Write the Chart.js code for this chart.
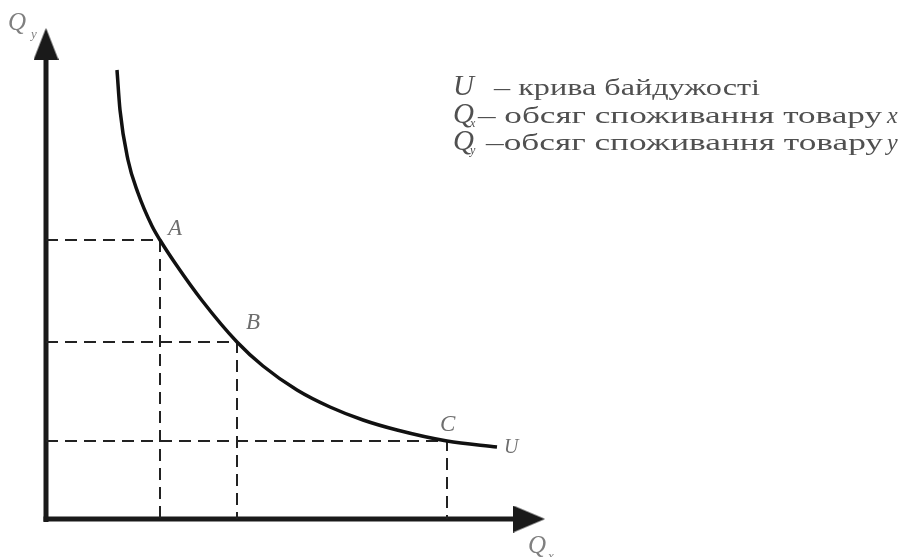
<!DOCTYPE html>
<html>
<head>
<meta charset="utf-8">
<script src="https://cdn.jsdelivr.net/npm/chart.js@4.4.1/dist/chart.umd.min.js"></script>
<style>
  body { margin: 0; background: #fff; }
  canvas { display: block; }
</style>
</head>
<body>
<canvas id="curveChart" width="902" height="557"></canvas>
<script>
// indifference curve U, traced point by point
const curveX = [1.42, 1.48, 1.64, 1.84, 2.12, 2.28, 2.58, 3.12, 3.82, 4.34, 5.02, 5.68, 6.34, 7.02, 8.02, 9.02];
const curveY = [8.98, 8.18, 7.18, 6.52, 5.86, 5.58, 5.12, 4.37, 3.54, 3.06, 2.58, 2.24, 1.98, 1.78, 1.56, 1.44];

// marked bundles on the curve
const pointNames = ['A', 'B', 'C'];
const pointX = [2.28, 3.82, 8.02];
const pointY = [5.58, 3.54, 1.56];

// axis extents (arrow centres)
const axisXEnd = 9.66;
const axisYEnd = 9.5;

const legendLines = [
  { sym: 'U', sub: '', text: '– крива байдужості', tail: '' },
  { sym: 'Q', sub: 'x', text: '– обсяг споживання товару', tail: 'x' },
  { sym: 'Q', sub: 'y', text: '–обсяг споживання товару', tail: 'y' }
];

function arrowHead(w, h) {
  const c = document.createElement('canvas');
  c.width = w;
  c.height = h;
  const g = c.getContext('2d');
  g.fillStyle = '#1a1a1a';
  g.beginPath();
  g.moveTo(w / 2, 0);
  g.lineTo(w, h);
  g.lineTo(0, h);
  g.closePath();
  g.fill();
  return c;
}

const guideSets = pointX.map((x, i) => ({
  data: [{ x: 0, y: pointY[i] }, { x: x, y: pointY[i] }, { x: x, y: 0 }],
  showLine: true,
  borderColor: '#222',
  borderWidth: 2,
  borderDash: [12, 7],
  pointRadius: 0,
  tension: 0
}));

const curveSet = {
  data: curveX.map((x, i) => ({ x: x, y: curveY[i] })),
  showLine: true,
  borderColor: '#111',
  borderWidth: 3.5,
  pointRadius: 0,
  cubicInterpolationMode: 'monotone'
};

const axisSets = [
  {
    data: [{ x: 0, y: -0.06 }, { x: 0, y: axisYEnd }],
    showLine: true, borderColor: '#1a1a1a', borderWidth: 5, pointRadius: 0
  },
  {
    data: [{ x: -0.05, y: 0 }, { x: axisXEnd, y: 0 }],
    showLine: true, borderColor: '#1a1a1a', borderWidth: 5, pointRadius: 0
  },
  {
    data: [{ x: 0, y: axisYEnd }],
    pointStyle: arrowHead(25, 32), pointRadius: 5
  },
  {
    data: [{ x: axisXEnd, y: 0 }],
    pointStyle: arrowHead(27, 32), pointRadius: 5, rotation: 90
  }
];

function fitText(ctx, str, x, y, width) {
  const w = ctx.measureText(str).width;
  ctx.save();
  ctx.translate(x, y);
  ctx.scale(width / w, 1);
  ctx.fillText(str, 0, 0);
  ctx.restore();
}

const labelsPlugin = {
  id: 'labels',
  afterDatasetsDraw(chart) {
    const ctx = chart.ctx;
    const sx = chart.scales.x, sy = chart.scales.y;
    ctx.save();
    ctx.textBaseline = 'alphabetic';
    ctx.textAlign = 'left';

    // point letters
    ctx.fillStyle = '#6e6e6e';
    ctx.font = 'italic 23px "Liberation Serif"';
    const offs = [[8, -5], [9, -13], [-7, -10]];
    pointNames.forEach((n, i) => {
      const px = sx.getPixelForValue(pointX[i]);
      const py = sy.getPixelForValue(pointY[i]);
      ctx.fillText(n, px + offs[i][0], py + offs[i][1]);
    });
    const ex = sx.getPixelForValue(curveX[curveX.length - 1]);
    const ey = sy.getPixelForValue(curveY[curveY.length - 1]);
    ctx.font = 'italic 20px "Liberation Serif"';
    ctx.fillText('U', ex + 7, ey + 6);

    // axis names
    ctx.fillStyle = '#808080';
    ctx.font = 'italic 25px "Liberation Serif"';
    ctx.fillText('Q', 8, 30);
    ctx.font = 'italic 13px "Liberation Serif"';
    ctx.fillText('y', 31, 38);
    ctx.font = 'italic 25px "Liberation Serif"';
    ctx.fillText('Q', 528, 553);
    ctx.font = 'italic 13px "Liberation Serif"';
    ctx.fillText('x', 548, 560);

    // legend
    ctx.fillStyle = '#505050';
    const base = [95, 123, 150];
    const textStart = [494, 478, 486];
    const textEnd = [760, 882, 883];
    legendLines.forEach((l, i) => {
      ctx.font = 'italic 29px "Liberation Serif"';
      ctx.fillText(l.sym, 453, base[i]);
      if (l.sub) {
        ctx.font = 'italic 12px "Liberation Serif"';
        ctx.fillText(l.sub, 470, base[i] + 4);
      }
      ctx.font = '24px "Liberation Serif"';
      fitText(ctx, l.text, textStart[i], base[i], textEnd[i] - textStart[i]);
      if (l.tail) {
        ctx.font = 'italic 24px "Liberation Serif"';
        ctx.fillText(l.tail, 887, base[i]);
      }
    });
    ctx.restore();
  }
};

new Chart(document.getElementById('curveChart'), {
  type: 'scatter',
  data: { datasets: [curveSet].concat(guideSets, axisSets) },
  options: {
    responsive: false,
    animation: false,
    clip: false,
    layout: { padding: { left: 46, right: 356, top: 19, bottom: 38 } },
    plugins: { legend: { display: false }, tooltip: { enabled: false } },
    scales: {
      x: { type: 'linear', min: 0, max: 10, display: false },
      y: { type: 'linear', min: 0, max: 10, display: false }
    }
  },
  plugins: [labelsPlugin]
});
</script>
</body>
</html>
